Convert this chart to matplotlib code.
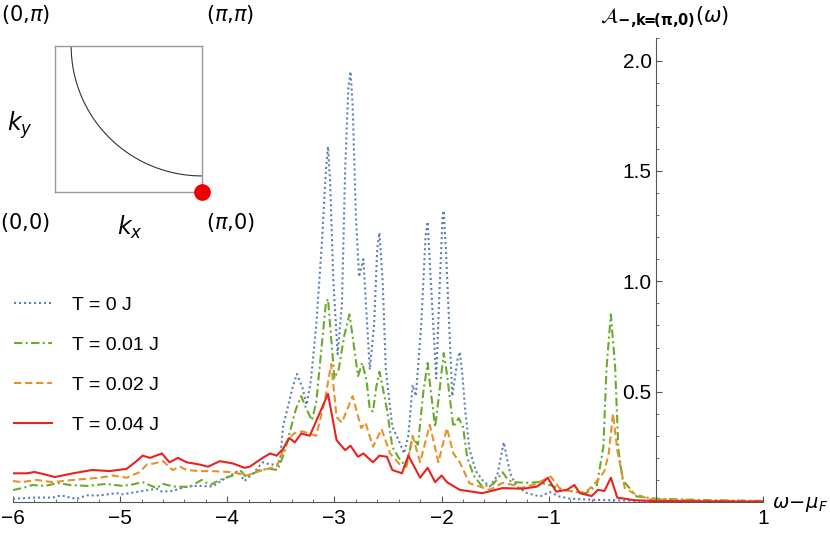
import numpy as np
import matplotlib
matplotlib.use("Agg")
import matplotlib.pyplot as plt
from matplotlib.ticker import MultipleLocator, FixedLocator

plt.rcParams['font.family'] = ['Liberation Sans', 'DejaVu Sans']
plt.rcParams['mathtext.fontset'] = 'dejavusans'

labels = ["T = 0 J", "T = 0.01 J", "T = 0.02 J", "T = 0.04 J"]

# T = 0
x0 = [-6.00, -5.82, -5.63, -5.55, -5.41, -5.31, -5.19, -5.03, -4.98, -4.79, -4.66, -4.61, -4.51,
      -4.38, -4.26, -4.14, -4.01, -3.90, -3.84, -3.76, -3.67, -3.60, -3.51, -3.48, -3.44, -3.39,
      -3.35, -3.30, -3.26, -3.22, -3.17, -3.12, -3.08, -3.06, -3.04, -3.01, -2.97, -2.93, -2.90,
      -2.87, -2.85, -2.83, -2.80, -2.77, -2.73, -2.70, -2.67, -2.63, -2.60, -2.58, -2.55, -2.52,
      -2.46, -2.40, -2.35, -2.31, -2.27, -2.24, -2.19, -2.15, -2.13, -2.10, -2.05, -2.02, -1.99,
      -1.98, -1.96, -1.90, -1.85, -1.83, -1.81, -1.78, -1.74, -1.68, -1.62, -1.55, -1.48, -1.42,
      -1.39, -1.36, -1.30, -1.20, -1.08, -0.99, -0.90, -0.80, -0.60, -0.40, -0.20, 0.0, 0.5, 1.0]
y0 = [0.014, 0.02, 0.02, 0.03, 0.014, 0.03, 0.03, 0.04, 0.035, 0.05, 0.06, 0.047, 0.05,
      0.07, 0.073, 0.07, 0.11, 0.14, 0.095, 0.13, 0.18, 0.17, 0.17, 0.34, 0.42, 0.52,
      0.58, 0.52, 0.44, 0.55, 0.80, 1.15, 1.50, 1.61, 1.45, 1.00, 0.67, 0.90, 1.50,
      1.88, 1.95, 1.80, 1.30, 1.02, 1.10, 0.85, 0.60, 0.80, 1.15, 1.22, 1.00, 0.60,
      0.34, 0.28, 0.22, 0.30, 0.53, 0.48, 0.80, 1.20, 1.27, 1.00, 0.56, 0.95, 1.30,
      1.32, 1.15, 0.48, 0.65, 0.68, 0.60, 0.42, 0.24, 0.14, 0.10, 0.07, 0.12, 0.27,
      0.20, 0.13, 0.07, 0.04, 0.025, 0.045, 0.025, 0.015, 0.01, 0.008, 0.006, 0.005, 0.003, 0.002]

# T = 0.01
x1 = [-6.00, -5.90, -5.82, -5.70, -5.58, -5.47, -5.31, -5.13, -4.98, -4.88, -4.79, -4.66, -4.60,
      -4.50, -4.35, -4.24, -4.16, -4.07, -3.95, -3.88, -3.82, -3.70, -3.60, -3.53, -3.47, -3.42,
      -3.36, -3.31, -3.26, -3.21, -3.17, -3.12, -3.08, -3.06, -3.04, -3.00, -2.96, -2.91, -2.86,
      -2.83, -2.78, -2.74, -2.70, -2.67, -2.64, -2.61, -2.58, -2.55, -2.51, -2.46, -2.40, -2.33,
      -2.27, -2.22, -2.17, -2.13, -2.10, -2.06, -2.02, -1.98, -1.95, -1.89, -1.84, -1.80, -1.76,
      -1.70, -1.62, -1.52, -1.43, -1.38, -1.33, -1.21, -1.10, -0.99, -0.87, -0.65, -0.55, -0.49,
      -0.46, -0.42, -0.38, -0.35, -0.31, -0.18, 0.0, 0.5, 1.0]
y1 = [0.054, 0.065, 0.077, 0.073, 0.086, 0.077, 0.073, 0.082, 0.073, 0.08, 0.09, 0.063, 0.082,
      0.07, 0.068, 0.10, 0.077, 0.10, 0.12, 0.145, 0.11, 0.145, 0.15, 0.145, 0.22, 0.31,
      0.42, 0.48, 0.42, 0.37, 0.45, 0.70, 0.90, 0.92, 0.80, 0.56, 0.60, 0.75, 0.85,
      0.75, 0.57, 0.63, 0.55, 0.42, 0.41, 0.52, 0.59, 0.52, 0.42, 0.25, 0.20, 0.16,
      0.29, 0.26, 0.50, 0.63, 0.50, 0.34, 0.50, 0.675, 0.58, 0.34, 0.38, 0.34, 0.20,
      0.12, 0.07, 0.08, 0.135, 0.10, 0.09, 0.087, 0.09, 0.077, 0.055, 0.04, 0.077, 0.25,
      0.61, 0.85, 0.61, 0.24, 0.10, 0.025, 0.015, 0.008, 0.005]

# T = 0.02
x2 = [-6.00, -5.92, -5.78, -5.63, -5.44, -5.19, -5.07, -4.94, -4.82, -4.75, -4.68, -4.60, -4.51,
      -4.44, -4.38, -4.26, -4.14, -3.95, -3.82, -3.67, -3.54, -3.45, -3.38, -3.30, -3.17, -3.09,
      -3.03, -2.98, -2.93, -2.83, -2.75, -2.71, -2.64, -2.56, -2.48, -2.39, -2.33, -2.27, -2.20,
      -2.11, -2.03, -1.95, -1.89, -1.83, -1.74, -1.55, -1.43, -1.33, -1.27, -1.15, -0.98, -0.90,
      -0.77, -0.65, -0.54, -0.48, -0.44, -0.40, -0.36, -0.29, -0.21, -0.06, 0.5, 1.0]
y2 = [0.095, 0.09, 0.10, 0.09, 0.10, 0.11, 0.12, 0.11, 0.135, 0.17, 0.175, 0.185, 0.145,
      0.16, 0.145, 0.14, 0.14, 0.135, 0.12, 0.145, 0.16, 0.27, 0.31, 0.32, 0.30, 0.46,
      0.625, 0.385, 0.36, 0.48, 0.335, 0.36, 0.25, 0.33, 0.22, 0.17, 0.16, 0.30, 0.18,
      0.35, 0.18, 0.335, 0.22, 0.18, 0.085, 0.055, 0.087, 0.077, 0.063, 0.077, 0.115, 0.063,
      0.045, 0.045, 0.10, 0.14, 0.22, 0.40, 0.235, 0.063, 0.04, 0.013, 0.005, 0.003]

# T = 0.04
x3 = [-6.00, -5.87, -5.80, -5.72, -5.61, -5.44, -5.26, -5.10, -4.94, -4.86, -4.79, -4.72, -4.61,
      -4.54, -4.46, -4.38, -4.26, -4.18, -4.07, -3.95, -3.84, -3.79, -3.67, -3.60, -3.54, -3.48,
      -3.42, -3.37, -3.31, -3.23, -3.14, -3.06, -2.98, -2.90, -2.85, -2.78, -2.73, -2.64, -2.58,
      -2.51, -2.46, -2.37, -2.31, -2.20, -2.13, -2.06, -2.00, -1.95, -1.83, -1.62, -1.43, -1.24,
      -1.11, -1.05, -1.01, -0.93, -0.83, -0.76, -0.71, -0.60, -0.54, -0.48, -0.42, -0.36, -0.20,
      0.0, 1.0]
y3 = [0.13, 0.13, 0.136, 0.127, 0.113, 0.13, 0.145, 0.14, 0.15, 0.18, 0.21, 0.20, 0.22,
      0.18, 0.20, 0.18, 0.17, 0.16, 0.185, 0.175, 0.155, 0.16, 0.20, 0.22, 0.21, 0.24,
      0.29, 0.27, 0.31, 0.30, 0.40, 0.49, 0.28, 0.235, 0.255, 0.205, 0.22, 0.18, 0.21,
      0.205, 0.145, 0.13, 0.21, 0.11, 0.155, 0.09, 0.12, 0.09, 0.055, 0.04, 0.063, 0.06,
      0.07, 0.09, 0.11, 0.047, 0.055, 0.077, 0.04, 0.027, 0.055, 0.05, 0.11, 0.02, 0.008,
      0.004, 0.002]

colors = ['#5E81B5', '#6AAB2C', '#E4922A', '#E8231F']
styles = [(0, (1, 1.4)), (0, (4, 1.6, 1, 1.6)), (0, (3.5, 1.8)), '-']

fig = plt.figure(figsize=(8.3, 5.36), dpi=100)
ax = fig.add_axes([13/830, 34/536, 750/830, 463.5/536])

for xs, ys, c, ls, lab in zip([x0, x1, x2, x3], [y0, y1, y2, y3], colors, styles, labels):
    ax.plot(xs, ys, color=c, ls=ls, lw=1.5, label=lab)

ax.set_xlim(-6, 1)
ax.set_ylim(0, 2.1)
ax.spines['left'].set_position(('data', 0))
ax.spines['right'].set_visible(False)
ax.spines['top'].set_visible(False)
for s in ['left', 'bottom']:
    ax.spines[s].set_color('#555555')
    ax.spines[s].set_linewidth(0.8)

ax.xaxis.set_major_locator(FixedLocator([-6, -5, -4, -3, -2, -1, 1]))
ax.xaxis.set_minor_locator(MultipleLocator(0.2))
ax.yaxis.set_major_locator(FixedLocator([0.5, 1.0, 1.5, 2.0]))
ax.yaxis.set_minor_locator(MultipleLocator(0.1))
ax.set_yticklabels(['0.5', '1.0', '1.5', '2.0'])
ax.tick_params(which='both', direction='in', color='#555555', labelsize=15)
ax.tick_params(which='major', length=4.5, width=0.8)
ax.tick_params(which='minor', length=2.5, width=0.6)
ax.tick_params(axis='x', pad=5)
ax.tick_params(axis='y', pad=3)

ax.legend(loc='upper left', bbox_to_anchor=(-4/830, 1 - 279/536), bbox_transform=fig.transFigure,
          frameon=False, fontsize=14, handlelength=2.0, handletextpad=1.0, labelspacing=1.15)

fig.text(772/830, 1 - 505/536, r'$\omega\!-\!\mu_F$', fontsize=14, va='center', ha='left')
fig.text(600/830, 1 - 17/536,
         r'$\mathcal{A}_{\mathbf{-{,}k}\!\!\mathbf{=}\!\!\mathbf{(\pi{,}0)}}(\omega)$',
         fontsize=15, va='center', ha='left')

# inset Brillouin zone
ins = fig.add_axes([55/830, 1 - 192/536, 147/830, 146/536])
ins.set_xlim(0, np.pi)
ins.set_ylim(0, np.pi)
ins.set_xticks([])
ins.set_yticks([])
for s in ins.spines.values():
    s.set_color('#999999')
    s.set_linewidth(1.0)
r = 0.89 * np.pi
th = np.linspace(np.pi, 1.5 * np.pi, 200)
ins.plot(np.pi + r * np.cos(th), np.pi + r * np.sin(th), color='#333333', lw=0.8)
ins.plot([np.pi], [0], 'o', color='#EE0000', ms=11, clip_on=False, zorder=5)

fig.text(25/830, 1 - 15/536, r'$(0{,}\pi)$', fontsize=15, ha='center', va='center')
fig.text(230/830, 1 - 15/536, r'$(\pi{,}\pi)$', fontsize=15, ha='center', va='center')
fig.text(20/830, 1 - 125/536, r'$k_y$', fontsize=17, ha='center', va='center')
fig.text(25/830, 1 - 222/536, r'$(0{,}0)$', fontsize=15, ha='center', va='center')
fig.text(130/830, 1 - 227/536, r'$k_x$', fontsize=17, ha='center', va='center')
fig.text(230/830, 1 - 222/536, r'$(\pi{,}0)$', fontsize=15, ha='center', va='center')

fig.savefig('out.png', dpi=100)
